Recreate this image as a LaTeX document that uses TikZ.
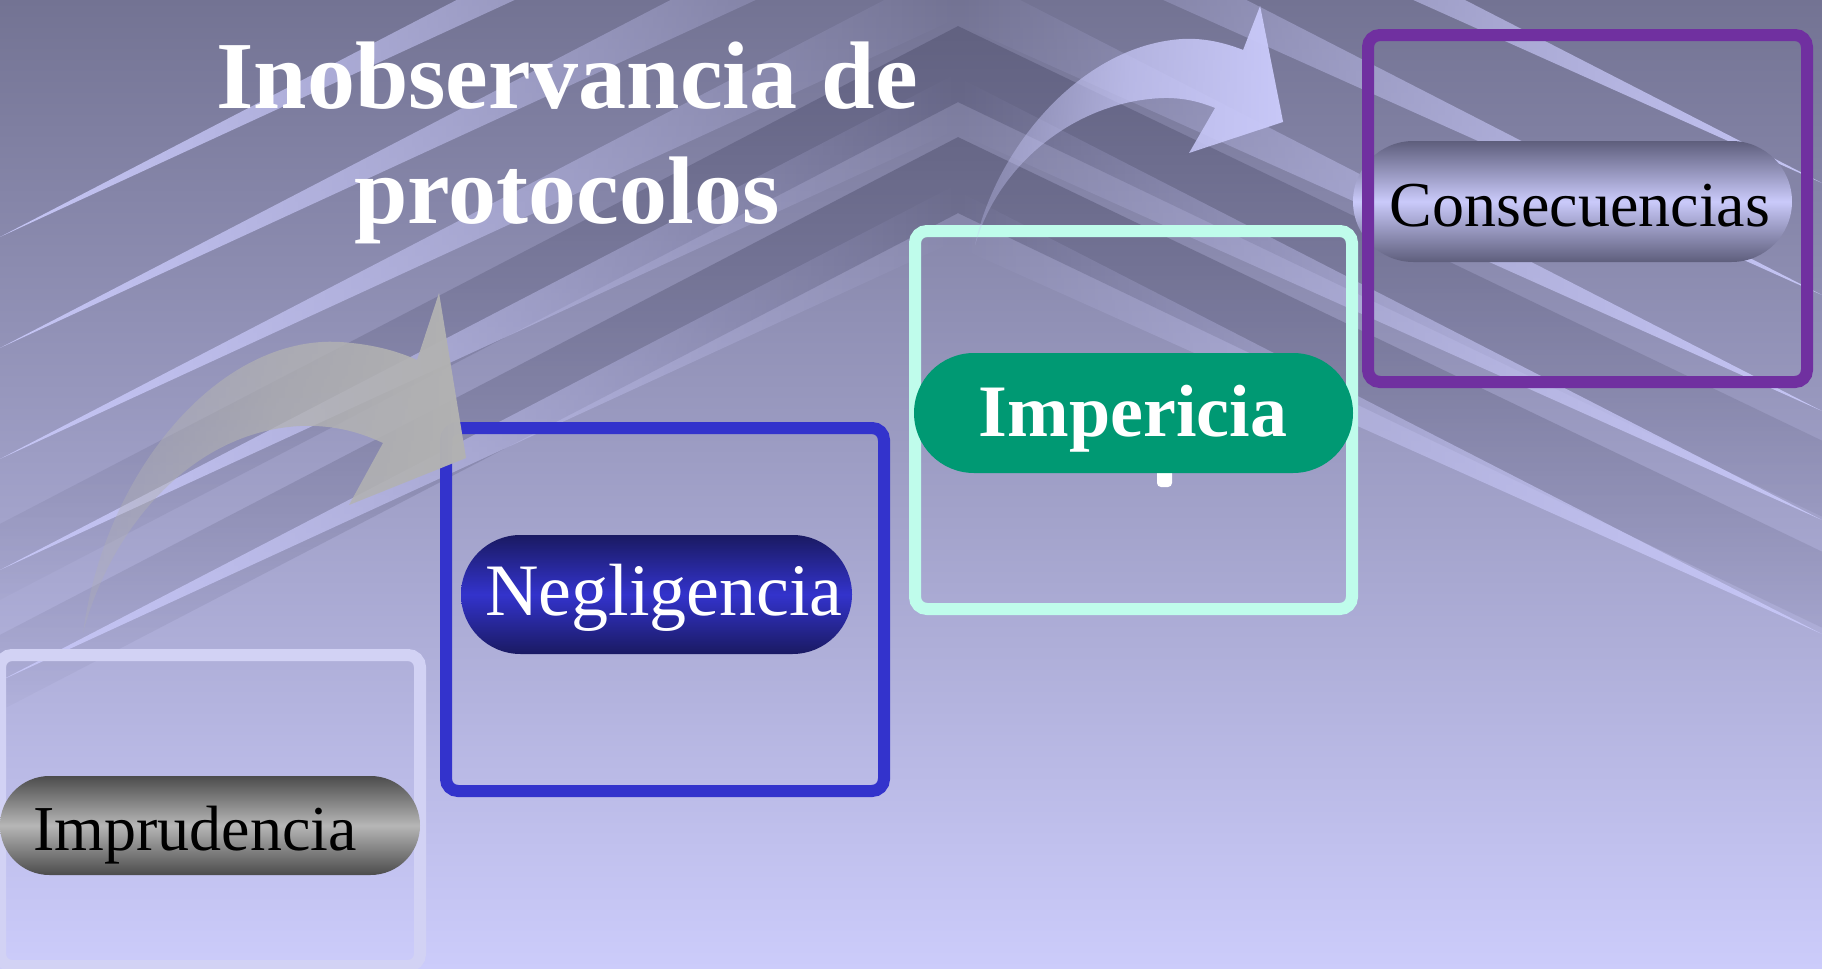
\documentclass[tikz,border=0pt]{standalone}
\usepackage{fontspec}
\setmainfont{Liberation Serif}
\usetikzlibrary{positioning,shapes.misc,fadings}

\definecolor{bgtop}{HTML}{737393}
\definecolor{bgbottom}{HTML}{CCCCFB}
\definecolor{bandcol}{HTML}{4E4E6C}
\definecolor{streakcol}{HTML}{C6C6F6}
\definecolor{imprudcol}{HTML}{D2D2F4}
\definecolor{negligcol}{HTML}{3333CC}
\definecolor{negligdark}{HTML}{1A1A62}
\definecolor{impericol}{HTML}{BFFCEB}
\definecolor{imperifill}{HTML}{009973}
\definecolor{consecol}{HTML}{7030A0}
\definecolor{consedark}{HTML}{5E5E7C}
\definecolor{consemid}{HTML}{CACAFA}
\definecolor{graydark}{HTML}{4C4C4C}
\definecolor{graylight}{HTML}{B6B6B6}
\definecolor{arrowgray}{HTML}{B2B2B2}
\definecolor{arrowlav}{HTML}{C8C8F8}

\tikzfading[name=arrowfade, left color=transparent!72, right color=transparent!0, middle color=transparent!25]
\tikzfading[name=bandfade, top color=transparent!0, bottom color=transparent!100]
\tikzfading[name=streakleft, left color=transparent!0, right color=transparent!100]
\tikzfading[name=streakright, left color=transparent!100, right color=transparent!0]

\begin{document}
\begin{tikzpicture}[x=0.5pt, y=-0.5pt,
    stage/.style={line width=6pt, rounded corners=6pt},
    pill/.style={rounded rectangle, inner sep=0pt},
    pilltext/.style={anchor=base, inner sep=0pt}]
    \useasboundingbox (0,0) rectangle (1822,969);
    \fill[top color=bgtop, bottom color=bgbottom] (0,0) rectangle (1822,969);

    \begin{scope}
        \clip (0,0) rectangle (1822,969);
        \foreach \ya/\yb in {26/102, 137/213}
            \fill[bandcol, opacity=0.5, path fading=bandfade]
                (958,\ya) -- (1900,\ya+452) -- (1900,\yb+452) -- (958,\yb)
                -- (-60,\yb+529) -- (-60,\ya+529) -- cycle;
        \foreach \yl/\yr in {237/183, 348/295, 459/411, 570/520, 681/634} {
            \fill[streakcol, path fading=streakleft]
                (0,\yl) -- (958,\yl-497) -- (958,\yl-441) -- cycle;
            \fill[streakcol, path fading=streakright]
                (1822,\yr) -- (958,\yr-443) -- (958,\yr-387) -- cycle;
        }
    \end{scope}

    \draw[stage, imprudcol] (0,655) rectangle (420,966);
    \draw[stage, negligcol] (446,428) rectangle (884,791);
    \draw[stage, impericol] (915,231) rectangle (1352,609);

    \fill[white, rounded corners=2pt] (1157,460) rectangle (1172,487);

    \node[pill, top color=graydark, bottom color=graydark, middle color=graylight,
        minimum width=210pt, minimum height=49.5pt] (impPill) at (210,825.5) {};
    \node[pilltext, font=\fontsize{32}{36}\selectfont] (impText) at (195,850) {Imprudencia};

    \node[pill, top color=negligdark, bottom color=negligdark, middle color=negligcol,
        minimum width=195.5pt, minimum height=59.5pt] (negPill) at (656.5,594.5) {};
    \node[pilltext, text=white, font=\fontsize{37}{42}\selectfont] (negText) at (664,615) {Negligencia};

    \node[pill, fill=imperifill, minimum width=219.5pt, minimum height=60pt] (perPill) at (1133.5,413) {};
    \node[pilltext, text=white, font=\fontsize{37}{42}\selectfont\bfseries] (perText) at (1133,436) {Impericia};

    \node[pill, top color=consedark, bottom color=consedark, middle color=consemid,
        minimum width=219.5pt, minimum height=60.5pt] (conPill) at (1572.5,201.5) {};
    \node[pilltext, font=\fontsize{32}{36}\selectfont] (conText) at (1580,226) {Consecuencias};
    \draw[stage, consecol] (1368,35) rectangle (1807,382);

    \fill[arrowgray, path fading=arrowfade] (83,633) .. controls (105,470) and (220,335) .. (340,342)
        .. controls (370,344) and (395,350) .. (417,360) -- (439,293) -- (466,458) -- (349,505) -- (383,443)
        .. controls (355,430) and (330,425) .. (300,426) .. controls (190,432) and (110,530) .. (83,633) -- cycle;
    \fill[arrowlav, path fading=arrowfade] (975,245) .. controls (995,150) and (1080,45) .. (1183,39)
        .. controls (1205,38) and (1225,43) .. (1243,50) -- (1260,6) -- (1283,122) -- (1189,153) -- (1215,108)
        .. controls (1200,102) and (1185,98) .. (1165,98) .. controls (1080,100) and (1000,160) .. (975,245) -- cycle;

    \node[anchor=north, inner sep=0pt, align=center, text=white,
        font=\fontsize{48}{57.5}\selectfont\bfseries] (title) at (567,41) {Inobservancia de\\protocolos};
\end{tikzpicture}
\end{document}
